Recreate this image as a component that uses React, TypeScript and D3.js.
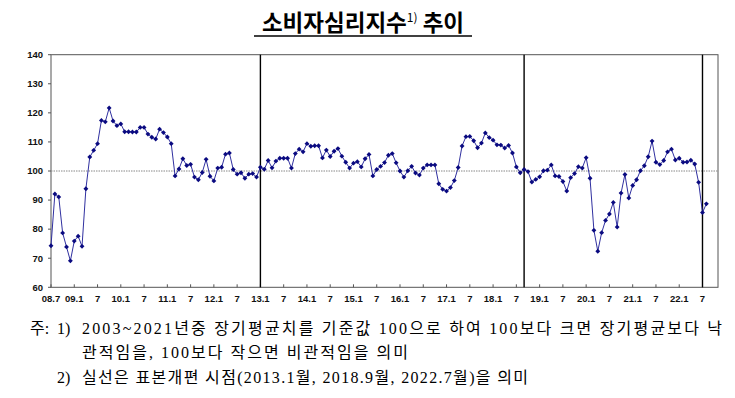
import React from 'react';
import * as d3 from 'd3';

// Monthly consumer sentiment index, 2008.7 ~ 2022.8
const values: number[] = [
  74.3, 92.1, 91.1, 78.7, 73.9, 69.1, 75.9, 77.6, 74.1, 93.9,
  104.8, 107.1, 109.4, 117.4, 116.9, 121.7, 117.2, 115.6, 116.2, 113.5,
  113.5, 113.4, 113.4, 115.0, 115.0, 112.7, 111.6, 111.0, 114.4, 113.2,
  111.7, 109.4, 98.3, 100.7, 104.2, 101.9, 102.3, 97.9, 97.0, 99.5,
  104.0, 98.2, 96.6, 101.0, 101.3, 105.8, 106.2, 100.5, 98.9, 99.4,
  97.5, 98.9, 99.1, 97.9, 101.3, 100.6, 103.6, 101.1, 103.4, 104.4,
  104.4, 104.4, 101.0, 106.0, 107.5, 106.6, 109.4, 108.5, 108.7, 108.7,
  104.5, 107.2, 105.0, 106.8, 107.7, 105.1, 103.0, 101.0, 102.7, 103.2,
  101.4, 104.2, 105.7, 98.3, 100.5, 101.6, 102.9, 105.4, 106.0, 102.8,
  100.0, 97.9, 100.1, 101.6, 99.3, 98.6, 101.0, 102.1, 102.1, 102.1,
  95.6, 93.7, 93.1, 94.3, 96.7, 101.2, 108.6, 111.8, 111.9, 110.4,
  108.0, 109.6, 113.1, 111.5, 110.6, 109.0, 108.9, 107.9, 108.8, 106.2,
  101.4, 99.4, 100.5, 99.8, 96.2, 97.1, 98.0, 100.1, 100.3, 102.1,
  98.3, 98.1, 96.4, 93.1, 97.7, 99.1, 101.5, 101.0, 104.6, 97.5,
  79.6, 72.4, 78.8, 83.0, 85.2, 89.2, 80.7, 92.4, 98.8, 90.7,
  95.0, 97.0, 100.1, 101.8, 104.9, 110.3, 103.0, 102.2, 103.6, 106.6,
  107.5, 103.8, 104.4, 103.0, 103.1, 103.7, 102.4, 96.1, 85.7, 88.7,
];

const xTickLabels: string[] = [
  '08.7', '09.1', '7', '10.1', '7', '11.1', '7', '12.1', '7', '13.1', '7',
  '14.1', '7', '15.1', '7', '16.1', '7', '17.1', '7', '18.1', '7', '19.1', '7',
  '20.1', '7', '21.1', '7', '22.1', '7',
];
const yTicks: number[] = [60, 70, 80, 90, 100, 110, 120, 130, 140];
// sample reorganisation points: 2013.1, 2018.9, 2022.7 (month index from 2008.7)
const breakMonths: number[] = [54, 122, 168];
const baseline = 100;

const titleMain = '소비자심리지수';
const titleSup = '1)';
const titleTail = ' 추이';
const noteLines: string[] = [
  '2003~2021년중 장기평균치를 기준값 100으로 하여 100보다 크면 장기평균보다 낙',
  '관적임을, 100보다 작으면 비관적임을 의미',
  '실선은 표본개편 시점(2013.1월, 2018.9월, 2022.7월)을 의미',
];

export default function App() {
  const W = 735, H = 398;
  const left = 51, right = 718, top = 54.7, bottom = 287.3;
  const x = d3.scaleLinear().domain([0, 172]).range([left, right]);
  const y = d3.scaleLinear().domain([60, 140]).range([bottom, top]);
  const line = d3.line<number>().x((_, i) => x(i)).y((d) => y(d));
  const diamond = d3.symbol().type(d3.symbolDiamond2).size(15)();
  const navy = '#0a0a80';
  const sans = "'Liberation Sans', Arial, sans-serif";
  const kr = "'Noto Sans CJK KR', sans-serif";
  const serif = "'Liberation Serif', 'Noto Sans CJK KR', serif";
  const noteSize = 16;

  return (
    <svg width={W} height={H} style={{ position: 'absolute', left: 0, top: 0, background: '#fff' }}>
      {/* title */}
      <text x={363} y={31} textAnchor="middle" fontFamily={kr} fontWeight={700} fontSize={22.5} fill="#000">
        <tspan>{titleMain}</tspan>
        <tspan fontSize={12} dy={-9} fontWeight={400}>{titleSup}</tspan>
        <tspan dy={9}>{titleTail}</tspan>
      </text>
      <line x1={254} x2={472} y1={36} y2={36} stroke="#000" strokeWidth={1.3} />

      {/* frame */}
      <rect x={left} y={top} width={right - left} height={bottom - top} fill="none" stroke="#555" strokeWidth={1} />

      {/* y ticks */}
      {yTicks.map((t) => (
        <g key={t}>
          <line x1={left - 3} x2={left} y1={y(t)} y2={y(t)} stroke="#555" />
          <text x={43} y={y(t)} dy="0.35em" textAnchor="end" fontFamily={sans} fontWeight={700} fontSize={9.5} fill="#111">{t}</text>
        </g>
      ))}

      {/* x ticks */}
      {xTickLabels.map((lab, k) => (
        <g key={k}>
          <line x1={x(k * 6)} x2={x(k * 6)} y1={bottom} y2={bottom - 3} stroke="#555" />
          <text x={x(k * 6)} y={302} textAnchor="middle" fontFamily={sans} fontWeight={700} fontSize={9.5} fill="#111">{lab}</text>
        </g>
      ))}

      {/* baseline 100 */}
      <line x1={left} x2={right} y1={y(baseline)} y2={y(baseline)} stroke="#888" strokeWidth={1} strokeDasharray="1.5,1" />

      {/* break lines */}
      {breakMonths.map((m) => (
        <line key={m} x1={x(m)} x2={x(m)} y1={top} y2={bottom} stroke="#000" strokeWidth={1.4} />
      ))}

      {/* series */}
      <path d={line(values) || ''} fill="none" stroke="#3030a0" strokeWidth={1} />
      {values.map((v, i) => (
        <path key={i} d={diamond || ''} transform={`translate(${x(i)},${y(v)})`} fill={navy} />
      ))}

      {/* notes */}
      <text x={30} y={334} fontFamily={serif} fontSize={noteSize} fill="#000">주:</text>
      <text x={57} y={334} fontFamily={serif} fontSize={noteSize} fill="#000">1)</text>
      <text x={82} y={334} fontFamily={serif} fontSize={noteSize} fill="#000" textLength={640} lengthAdjust="spacing">{noteLines[0]}</text>
      <text x={82} y={358} fontFamily={serif} fontSize={noteSize} fill="#000" textLength={326} lengthAdjust="spacing">{noteLines[1]}</text>
      <text x={57} y={383} fontFamily={serif} fontSize={noteSize} fill="#000">2)</text>
      <text x={82} y={383} fontFamily={serif} fontSize={noteSize} fill="#000" textLength={446} lengthAdjust="spacing">{noteLines[2]}</text>
    </svg>
  );
}
